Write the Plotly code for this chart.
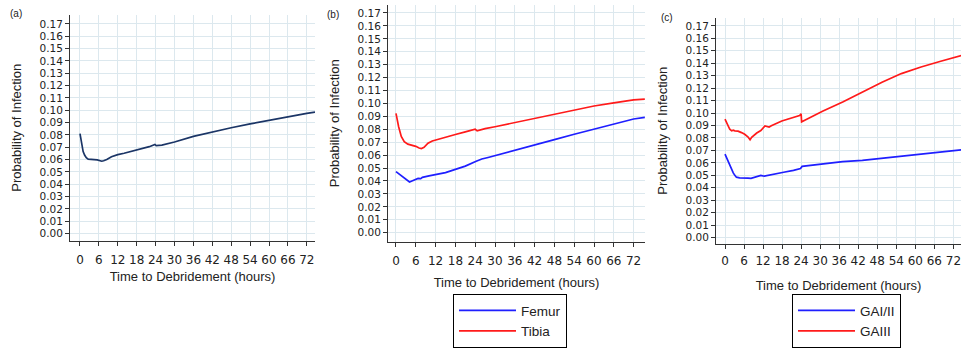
import plotly.graph_objects as go

# ---------------- data ----------------
a_t = [0, 0.5, 1, 1.5, 2, 2.6, 3.5, 4.5, 5.5, 6.3, 6.9, 7.5, 8.5, 10, 11, 12, 14, 16, 18, 20, 22,
       23.8, 24.2, 26, 30, 36, 42, 48, 54, 60, 66, 72, 74.6]
a_p = [0.0810, 0.0735, 0.0665, 0.0635, 0.0615, 0.0604, 0.0600, 0.0600, 0.0598, 0.0592, 0.0587,
       0.0591, 0.0601, 0.0624, 0.0633, 0.0640, 0.0652, 0.0665, 0.0677, 0.0693, 0.0705,
       0.0722, 0.0714, 0.0718, 0.0743, 0.0788, 0.0825, 0.0858, 0.0890, 0.0920, 0.0948, 0.0975, 0.0985]

tibia_t = [0, 0.3, 0.8, 1.6, 2.5, 3.6, 4.5, 5.1, 6, 7, 7.7, 8.5, 9.7, 11, 12.7, 15, 18, 21, 24,
           24.6, 27, 30, 36, 42, 48, 54, 60, 66, 72, 75.4]
tibia_p = [0.0923, 0.0880, 0.0820, 0.0745, 0.0705, 0.0685, 0.0680, 0.0672, 0.0668, 0.0655, 0.0651,
           0.0660, 0.0692, 0.0710, 0.0723, 0.0737, 0.0760, 0.0780, 0.0800,
           0.0788, 0.0805, 0.0820, 0.0852, 0.0888, 0.0920, 0.0950, 0.0980, 0.1005, 0.1028, 0.1033]

femur_t = [0, 1, 2, 3, 4.1, 5, 6, 6.7, 7.5, 8, 10, 12, 12.7, 15, 18, 21, 24.3, 26, 27.9, 30,
           36, 42, 48, 54, 60, 66, 72, 75.4]
femur_p = [0.0472, 0.0452, 0.0430, 0.0410, 0.0392, 0.0402, 0.0415, 0.0420, 0.0418, 0.0428, 0.0440,
           0.0450, 0.0454, 0.0465, 0.0490, 0.0515, 0.0553, 0.0570, 0.0582, 0.0597,
           0.0636, 0.0678, 0.0720, 0.0762, 0.0802, 0.0843, 0.0880, 0.0892]

gaiii_t = [0, 0.5, 1, 1.5, 2.1, 2.6, 3.1, 4.1, 5.2, 6.2, 7.2, 7.9, 8.4, 9.3, 10, 11.3, 12.1, 12.6,
           13.9, 14.6, 17.9, 20.6, 23.5, 24, 24.15, 25.3, 28.4, 30.9, 37.1, 43.3, 49.5, 55.6,
           61.8, 68, 74.2, 74.5]
gaiii_p = [0.0952, 0.0925, 0.0900, 0.0870, 0.0857, 0.0862, 0.0857, 0.0855, 0.0843, 0.0830, 0.0810,
           0.0785, 0.0805, 0.0825, 0.0840, 0.0860, 0.0883, 0.0896, 0.0888, 0.0898,
           0.0936, 0.0955, 0.0980, 0.0993, 0.0930, 0.0945, 0.0985, 0.1016, 0.1088, 0.1168,
           0.1248, 0.1317, 0.1370, 0.1416, 0.1460, 0.1462]

gai_t = [0, 0.5, 1, 1.5, 2.1, 2.6, 3.1, 3.6, 4.6, 6.2, 7.2, 8.2, 9.3, 10.4, 11.3, 12.4, 14.4, 18.5,
         21.6, 23.8, 24.3, 26.8, 30.9, 37.1, 43.3, 49.5, 55.6, 61.8, 68, 74.2, 74.5]
gai_p = [0.0670, 0.0640, 0.0610, 0.0580, 0.0555, 0.0520, 0.0500, 0.0485, 0.0480, 0.0481, 0.0478,
         0.0476, 0.0485, 0.0495, 0.0499, 0.0493, 0.0505, 0.0525, 0.0540, 0.0555, 0.0572,
         0.0580, 0.0593, 0.0610, 0.0620, 0.0637, 0.0652, 0.0668, 0.0683, 0.0703, 0.0704]

x_ticks = list(range(0, 73, 6))
y_ticks = [i / 100 for i in range(0, 18)]
y_labels = ["%.2f" % v for v in y_ticks]

panel_labels = ["(a)", "(b)", "(c)"]
x_title = "Time to Debridement (hours)"
y_title = "Probability of Infection"

NAVY = "#1b3566"
BLUE = "#1f1fff"
RED = "#ff1a1a"
GRID = "#dce8ee"
AX = "#333333"
FONT = "Liberation Sans, Arial, sans-serif"
TFONT = "DejaVu Sans, sans-serif"

W, H = 961, 348

fig = go.Figure()
fig.add_trace(go.Scatter(x=a_t, y=a_p, mode="lines", line=dict(color=NAVY, width=1.7),
                         showlegend=False, xaxis="x", yaxis="y"))
fig.add_trace(go.Scatter(x=femur_t, y=femur_p, mode="lines", name="Femur",
                         line=dict(color=BLUE, width=1.7), xaxis="x2", yaxis="y2", legend="legend"))
fig.add_trace(go.Scatter(x=tibia_t, y=tibia_p, mode="lines", name="Tibia",
                         line=dict(color=RED, width=1.7), xaxis="x2", yaxis="y2", legend="legend"))
fig.add_trace(go.Scatter(x=gai_t, y=gai_p, mode="lines", name="GAI/II",
                         line=dict(color=BLUE, width=1.7), xaxis="x3", yaxis="y3", legend="legend2"))
fig.add_trace(go.Scatter(x=gaiii_t, y=gaiii_p, mode="lines", name="GAIII",
                         line=dict(color=RED, width=1.7), xaxis="x3", yaxis="y3", legend="legend2"))

# panel geometry in pixels: (left, right, top, bottom, xrange, yrange)
panels = [
    (70, 315, 15, 242, [-3.17, 74.6], [-0.00564, 0.1773]),
    (388, 645, 5, 243, [-2.42, 75.45], [-0.0069, 0.1762]),
    (716, 961, 18, 245, [-2.84, 74.4], [-0.0048, 0.1764]),
]
x_lab_standoff = [4, 4, 2]
x_standoff = [5, 10, 13]

def xa(dom, rng, lso, so):
    return dict(domain=dom, range=rng, tickmode="array", tickvals=x_ticks,
                showgrid=True, gridcolor=GRID, gridwidth=1, zeroline=False,
                showline=True, linecolor=AX, linewidth=1, ticks="outside", ticklen=4,
                tickcolor=AX, tickfont=dict(size=12, color="#222", family=TFONT),
                ticklabelstandoff=lso, ticklabeloverflow="allow",
                title=dict(text=x_title, font=dict(size=13, color="#222", family=FONT), standoff=so),
                fixedrange=True, automargin=False)

def ya(dom, rng, anchor):
    return dict(domain=dom, range=rng, tickmode="array", tickvals=y_ticks, ticktext=y_labels,
                showgrid=True, gridcolor=GRID, gridwidth=1, zeroline=False,
                showline=True, linecolor=AX, linewidth=1, ticks="outside", ticklen=4,
                tickcolor=AX, tickfont=dict(size=10.5, color="#222", family=TFONT),
                title=dict(text=y_title, font=dict(size=13, color="#222", family=FONT), standoff=14),
                anchor=anchor, fixedrange=True, automargin=False)

layout = dict(width=W, height=H, margin=dict(l=0, r=0, t=0, b=0),
              paper_bgcolor="white", plot_bgcolor="white",
              font=dict(family=FONT, color="#222"))
names = ["", "2", "3"]
for i, (l, r, t, b, xr, yr) in enumerate(panels):
    xd = [l / W, r / W]
    yd = [1 - b / H, 1 - t / H]
    n = names[i]
    layout["xaxis" + n] = xa(xd, xr, x_lab_standoff[i], x_standoff[i])
    layout["xaxis" + n]["anchor"] = "y" + n
    layout["yaxis" + n] = ya(yd, yr, "x" + n)
fig.update_layout(**layout)

legend_common = dict(bgcolor="white", bordercolor="black", borderwidth=1,
                     font=dict(size=13.5, color="#222", family=FONT),
                     xanchor="left", yanchor="top", itemwidth=57, tracegroupgap=0)
fig.update_layout(
    legend=dict(x=453 / W, y=1 - 296 / H, **legend_common),
    legend2=dict(x=792 / W, y=1 - 296 / H, **legend_common),
)

label_pos = [(16, 14), (333, 15), (667, 18)]
for txt, (px, py) in zip(panel_labels, label_pos):
    fig.add_annotation(text=txt, x=px / W, y=1 - py / H, xref="paper", yref="paper",
                       showarrow=False, font=dict(size=10, color="#222", family=FONT),
                       xanchor="center", yanchor="middle")

fig.write_html("out.html", config={"displayModeBar": False},
               post_script="document.body.style.margin='0px';document.body.style.padding='0px';")
